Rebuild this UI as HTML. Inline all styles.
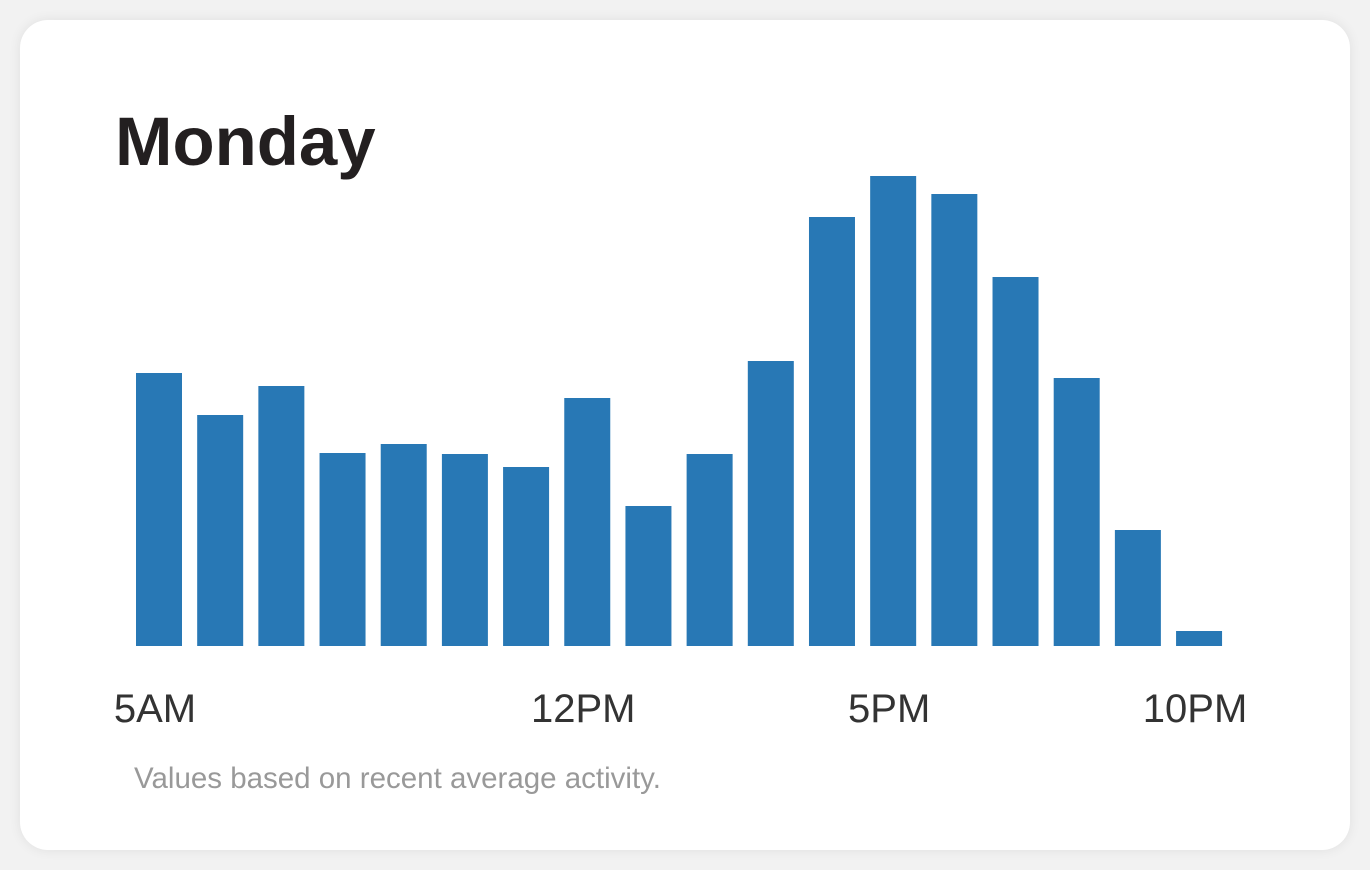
<!DOCTYPE html>
<html><head><meta charset="utf-8"><style>
html,body{margin:0;padding:0;background:#f2f2f2;width:1370px;height:870px;overflow:hidden;font-family:"Liberation Sans",sans-serif;}
.card{position:absolute;left:20px;top:20px;width:1330px;height:830px;background:#fff;border-radius:28px;box-shadow:0 0 12px rgba(0,0,0,0.08);}
</style></head><body>
<div class="card"></div>
<svg width="1370" height="870" style="position:absolute;left:0;top:0">
<text x="115" y="165" font-family="Liberation Sans, sans-serif" font-weight="bold" font-size="69" fill="#231f20">Monday</text>
<g id="bars"></g>
<g id="xlabels"></g>
<text x="134" y="788" font-family="Liberation Sans, sans-serif" font-size="29.5" fill="#999">Values based on recent average activity.</text>
</svg>
<script>
const hours = ["5AM","6AM","7AM","8AM","9AM","10AM","11AM","12PM","1PM","2PM","3PM","4PM","5PM","6PM","7PM","8PM","9PM","10PM"];
const values = [273,231,260,193,202,192,179,248,140,192,285,429,470,452,369,268,116,15];
const tickLabels = ["5AM","12PM","5PM","10PM"];
const NS="http://www.w3.org/2000/svg";
const baseY=646, plotH=500, yMax=500, x0=136, step=61.18, barW=46;
function xScale(i){return x0+i*step;}
function yScale(v){return baseY - v/yMax*plotH;}
const gb=document.getElementById('bars');
values.forEach((v,i)=>{
  const r=document.createElementNS(NS,'rect');
  r.setAttribute('x',xScale(i));r.setAttribute('y',yScale(v));
  r.setAttribute('width',barW);r.setAttribute('height',baseY-yScale(v));
  r.setAttribute('fill','#2878b5');
  
  
  gb.appendChild(r);
});
const gl=document.getElementById('xlabels');
tickLabels.forEach(t=>{
  const i=hours.indexOf(t);
  const tx=document.createElementNS(NS,'text');
  tx.setAttribute('x',xScale(i)+barW/2-4);tx.setAttribute('y',722);
  tx.setAttribute('text-anchor','middle');tx.setAttribute('font-size','40');
  tx.setAttribute('font-family','Liberation Sans, sans-serif');tx.setAttribute('fill','#333');
  tx.textContent=t;
  
  
  gl.appendChild(tx);
});
</script>
</body></html>
